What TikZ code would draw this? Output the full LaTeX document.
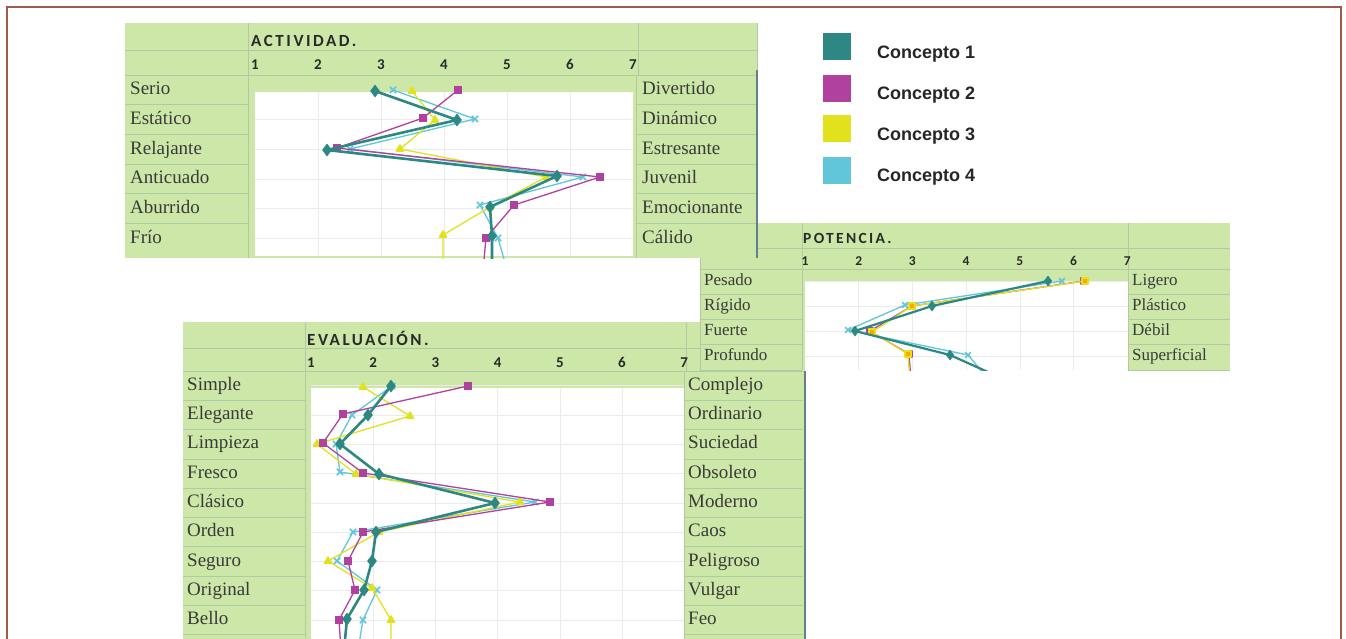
\documentclass[tikz,border=0pt]{standalone}
\usepackage{fontspec}
\setmainfont{Liberation Serif}
\newfontfamily\hdrfont[LetterSpace=15]{Carlito}
\newfontfamily\numfont[Numbers=Lining]{Carlito}
\newfontfamily\legfont{Liberation Sans}
\usetikzlibrary{plotmarks}

\definecolor{framec}{HTML}{A5584A}
\definecolor{panelg}{HTML}{CCE7A8}
\definecolor{cellln}{HTML}{B3C9A3}
\definecolor{edgec}{HTML}{62818A}
\definecolor{cteal}{HTML}{2D8884}
\definecolor{cmag}{HTML}{B0419F}
\definecolor{cyel}{HTML}{E2E21C}
\definecolor{ccyan}{HTML}{62C6DA}
\definecolor{labcol}{HTML}{3A3A3A}
\definecolor{titlec}{HTML}{2A2A2A}
\definecolor{gridc}{HTML}{EBEBEB}

\begin{document}
\begin{tikzpicture}[x=1pt,y=-1pt,
  cellline/.style={draw=cellln, line width=0.8pt},
  gridline/.style={draw=gridc, line width=0.6pt},
  edgeline/.style={draw=edgec, line width=1.4pt},
  lbl/.style={anchor=west, inner sep=0pt, text height=13.5pt, text depth=4pt, text=labcol, font=\fontsize{19}{19}\selectfont},
  lbls/.style={anchor=west, inner sep=0pt, text height=12pt, text depth=3.6pt, text=labcol, font=\fontsize{17}{17}\selectfont},
  ttl/.style={anchor=west, inner sep=0pt, text=titlec, font=\hdrfont\bfseries\fontsize{17}{17}\selectfont},
  ttls/.style={anchor=west, inner sep=0pt, text=titlec, font=\hdrfont\bfseries\fontsize{15.5}{15.5}\selectfont},
  num/.style={anchor=base, inner sep=0pt, text=titlec, font=\numfont\bfseries\fontsize{15}{15}\selectfont},
  nums/.style={anchor=base, inner sep=0pt, text=titlec, font=\numfont\bfseries\fontsize{13.5}{13.5}\selectfont},
  legsq/.style={draw=none, minimum width=28pt, minimum height=27pt, inner sep=0pt},
  legtxt/.style={anchor=base west, inner sep=0pt, text=black!85, font=\legfont\bfseries\fontsize{18}{18}\selectfont},
  sone/.style={cteal, line width=2.6pt, line join=round, mark=diamond*, mark size=6pt, mark options={solid, fill=cteal, draw=cteal, line width=0.5pt}},
  stwo/.style={cmag, line width=1.3pt, line join=round, mark=square*, mark size=3.6pt, mark options={fill=cmag, draw=cmag}},
  sthree/.style={cyel, line width=1.3pt, line join=round, mark=triangle*, mark size=4.2pt, mark options={fill=cyel, draw=cyel}},
  sfour/.style={ccyan, line width=1.3pt, line join=round, mark=x, mark size=4.5pt, mark options={line width=1.5pt}},
  sones/.style={sone, line width=2.2pt, mark size=5pt},
  stwos/.style={stwo, mark size=3pt},
  sthrees/.style={sthree, mark=square*, mark size=3pt, mark options={fill=orange!70!yellow, draw=cyel}},
  sfours/.style={sfour, mark size=4pt}]

\useasboundingbox (0,0) rectangle (1346,638);
\fill[white] (0,0) rectangle (1346,638);

% ---------------- EVALUACIÓN ----------------
\fill[panelg] (183,322) rectangle (805,640);
\draw[cellline] (183,348) -- (805,348);
\draw[cellline] (183,371) -- (805,371);
\foreach \i in {1,...,9} {
  \draw[cellline] (183,{371+29.3*\i}) -- (305,{371+29.3*\i});
  \draw[cellline] (684,{371+29.3*\i}) -- (803,{371+29.3*\i});
}
\draw[cellline] (305,322) -- (305,640);
\draw[cellline] (686,322) -- (686,371);
\fill[white] (311,388) rectangle (684,640);
\foreach \i in {0,...,8} \draw[gridline] (311,{385.6+29.3*\i}) -- (684,{385.6+29.3*\i});
\foreach \k in {1,...,5} \draw[gridline] ({311+62.2*\k},388) -- ({311+62.2*\k},640);
\draw[cellline] (684,371) -- (684,640);
\draw[edgeline] (805,371) -- (805,640);
\node[ttl] (evtitle) at (307,338) {EVALUACIÓN.};
\foreach \k in {1,...,7} \node[num] (evn\k) at ({311+62.2*(\k-1)},367) {\k};
\foreach \t [count=\i from 0] in {Simple,Elegante,Limpieza,Fresco,Clásico,Orden,Seguro,Original,Bello}
  \node[lbl] (evl\i) at (187,{385.6+29.3*\i}) {\t};
\foreach \t [count=\i from 0] in {Complejo,Ordinario,Suciedad,Obsoleto,Moderno,Caos,Peligroso,Vulgar,Feo}
  \node[lbl] (evr\i) at (688,{385.6+29.3*\i}) {\t};
\begin{scope}
  \clip (305,371) rectangle (684,638);
  \draw[sfour] plot coordinates {(392,386) (352,415) (336,444) (340,472) (535,502) (353,532) (337,561) (377,590) (363,620) (358,650)};
  \draw[sthree] plot coordinates {(363,387) (410,416) (317,444) (356,474) (520,502) (379,532) (328,561) (372,588) (391,620) (391,650)};
  \draw[stwo] plot coordinates {(468,386) (343,414) (323,443) (363,473) (550,502) (363,532) (348,561) (355,590) (339,620) (341,650)};
  \draw[sone] plot coordinates {(391,386) (368,415) (340,444) (379,474) (495,503) (376,532) (372,561) (364,590) (347,619) (344,650)};
\end{scope}

% ---------------- POTENCIA ----------------
\fill[panelg] (700,223) rectangle (1230,370);
\draw[cellline] (700,248) -- (1230,248);
\draw[cellline] (700,269) -- (1230,269);
\foreach \i in {1,...,3} {
  \draw[cellline] (700,{269+25*\i}) -- (802,{269+25*\i});
  \draw[cellline] (1128,{269+25*\i}) -- (1230,{269+25*\i});
}
\draw[cellline] (700,223) -- (700,370);
\draw[cellline] (802,223) -- (802,370);
\draw[cellline] (1128,223) -- (1128,370);
\draw[cellline] (700,370) -- (802,370);
\draw[cellline] (1128,370) -- (1230,370);
\fill[white] (805,282) rectangle (1128,370);
\foreach \i in {0,...,3} \draw[gridline] (805,{281.5+25*\i}) -- (1128,{281.5+25*\i});
\foreach \k in {1,...,5} \draw[gridline] ({805+53.7*\k},282) -- ({805+53.7*\k},370);
\node[ttls] (potitle) at (803,238) {POTENCIA.};
\foreach \k in {1,...,7} \node[nums] (pon\k) at ({805+53.7*(\k-1)},265.5) {\k};
\foreach \t [count=\i from 0] in {Pesado,Rígido,Fuerte,Profundo}
  \node[lbls] (pol\i) at (704,{281.5+25*\i}) {\t};
\foreach \t [count=\i from 0] in {Ligero,Plástico,Débil,Superficial}
  \node[lbls] (por\i) at (1132,{281.5+25*\i}) {\t};
\begin{scope}
  \clip (802,269) rectangle (1128,370);
  \draw[sfours] plot coordinates {(1062,281) (905,305) (848,330) (968,355) (990,381)};
  \draw[stwos] plot coordinates {(1084,281) (912,306) (870,331) (909,354) (911,381)};
  \draw[sthrees] plot coordinates {(1085,281) (912,306) (872,332) (908,354) (910,381)};
  \draw[sones] plot coordinates {(1048,281) (932,306) (855,331) (950,355) (1008,381)};
\end{scope}

% ---------------- ACTIVIDAD ----------------
\fill[panelg] (125,23) rectangle (757,258);
\draw[cellline] (125,50) -- (757,50);
\draw[cellline] (125,75) -- (757,75);
\foreach \i in {1,...,5} {
  \draw[cellline] (125,{75+29.7*\i}) -- (248,{75+29.7*\i});
  \draw[cellline] (636,{75+29.7*\i}) -- (757,{75+29.7*\i});
}
\draw[cellline] (248,23) -- (248,258);
\draw[cellline] (638,23) -- (638,75);
\draw[cellline] (757,23) -- (757,75);
\fill[white] (255,92) rectangle (633,256);
\foreach \i in {1,...,5} \draw[gridline] (255,{89.85+29.7*\i}) -- (633,{89.85+29.7*\i});
\foreach \k in {1,...,5} \draw[gridline] ({255+63*\k},92) -- ({255+63*\k},256);
\draw[cellline] (636,75) -- (636,258);
\draw[edgeline] (757,70) -- (757,258);
\node[ttl] (actitle) at (251,41) {ACTIVIDAD.};
\foreach \k in {1,...,7} \node[num] (acn\k) at ({255+63*(\k-1)},69) {\k};
\foreach \t [count=\i from 0] in {Serio,Estático,Relajante,Anticuado,Aburrido,Frío}
  \node[lbl] (acl\i) at (130,{89.85+29.7*\i}) {\t};
\foreach \t [count=\i from 0] in {Divertido,Dinámico,Estresante,Juvenil,Emocionante,Cálido}
  \node[lbl] (acr\i) at (642,{89.85+29.7*\i}) {\t};
\begin{scope}
  \clip (248,75) rectangle (636,258);
  \draw[sfour] plot coordinates {(393,90) (475,119) (350,149) (583,177) (480,205) (498,238) (507,270)};
  \draw[sthree] plot coordinates {(412,91) (435,120) (400,149) (546,177) (490,207) (443,235) (443,270)};
  \draw[stwo] plot coordinates {(458,90) (423,118) (337,148) (600,177) (514,205) (486,238) (483,270)};
  \draw[sone] plot coordinates {(375,91) (457,120) (327,150) (557,176) (490,207) (492,236) (492,270)};
\end{scope}

% ---------------- legend ----------------
\node[legsq, fill=cteal] (k1) at (837,46.5) {};
\node[legsq, fill=cmag] (k2) at (837,88.5) {};
\node[legsq, fill=cyel] (k3) at (837,128.5) {};
\node[legsq, fill=ccyan] (k4) at (837,170) {};
\node[legtxt] (t1) at (877,58.5) {Concepto 1};
\node[legtxt] (t2) at (877,99.5) {Concepto 2};
\node[legtxt] (t3) at (877,140) {Concepto 3};
\node[legtxt] (t4) at (877,181.5) {Concepto 4};

% ---------------- frame ----------------
\draw[framec, line width=2pt] (6.5,640) -- (6.5,6.5) -- (1341,6.5) -- (1341,640);
\end{tikzpicture}
\end{document}
